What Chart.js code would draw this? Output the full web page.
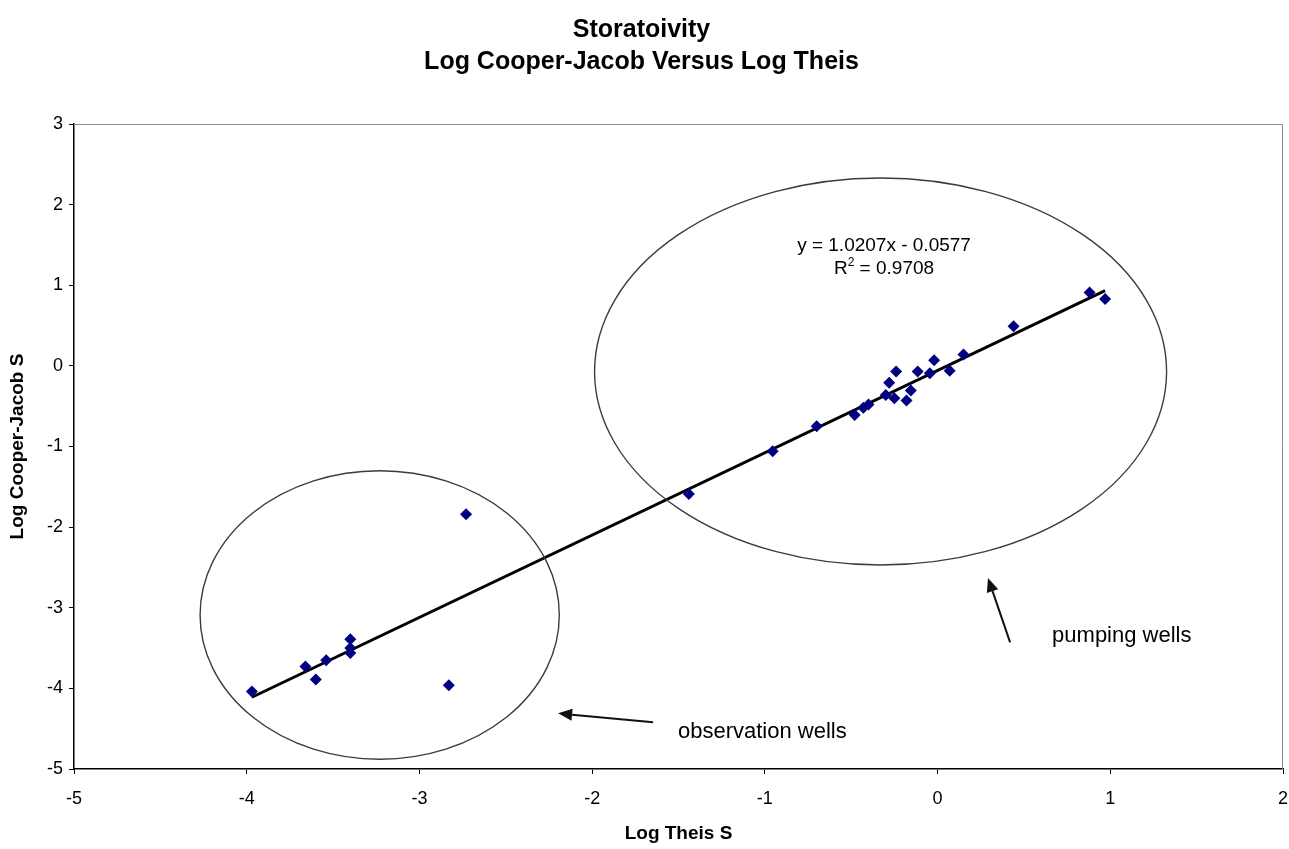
<!DOCTYPE html>
<html>
<head>
<meta charset="utf-8">
<title>Storatoivity</title>
<script src="https://cdn.jsdelivr.net/npm/chart.js@4.4.1/dist/chart.umd.min.js"></script>
<style>
    html, body { margin: 0; padding: 0; background: #fff; }
    #wrap { width: 1289px; height: 849px; }
</style>
</head>
<body>
<div id="wrap"><canvas id="storChart" width="1289" height="849"></canvas></div>
<script>
// Log Theis S (x) and Log Cooper-Jacob S (y) for each well
const logTheis = [
    -3.97, -3.66, -3.60, -3.54, -3.40, -3.40, -3.40, -2.83, -2.73,
    -1.44, -0.955, -0.70, -0.48, -0.43, -0.40, -0.28, -0.30, -0.24, -0.25,
    -0.155, -0.18, -0.115, -0.045, -0.02, 0.07, 0.15, 0.44, 0.88, 0.97
];
const logCooperJacob = [
    -4.04, -3.73, -3.89, -3.65, -3.39, -3.50, -3.56, -3.96, -1.84,
    -1.59, -1.06, -0.75, -0.61, -0.52, -0.48, -0.21, -0.36, -0.07, -0.40,
    -0.305, -0.43, -0.07, -0.09, 0.07, -0.06, 0.14, 0.49, 0.91, 0.83
];

// linear trendline as reported on the chart
const trendSlope = 1.0207;
const trendIntercept = -0.0577;
const trendR2 = 0.9708;

const xTicks = [-5, -4, -3, -2, -1, 0, 1, 2];
const yTicks = [-5, -4, -3, -2, -1, 0, 1, 2, 3];

const titleLines = ['Storatoivity', 'Log Cooper-Jacob Versus Log Theis'];

const points = logTheis.map((x, i) => ({ x: x, y: logCooperJacob[i] }));
const xMin = Math.min(...logTheis);
const xMax = Math.max(...logTheis);
const trendPoints = [xMin, xMax].map(x => ({ x: x, y: trendSlope * x + trendIntercept }));

const FONT = '"Liberation Sans", Arial, sans-serif';

// circled groups, arrows and notes, all in data units
const groups = [
    { cx: -3.23, cy: -3.09, rx: 1.04, ry: 1.79 },
    { cx: -0.33, cy: -0.07, rx: 1.656, ry: 2.40 }
];
const arrows = [
    { from: [-1.647, -4.42], to: [-2.197, -4.31] },
    { from: [0.420, -3.43], to: [0.292, -2.63] }
];
const notes = [
    { text: 'observation wells', x: -1.503, y: -4.54 },
    { text: 'pumping wells', x: 0.663, y: -3.35 }
];

const overlay = {
    id: 'overlay',
    beforeDatasetsDraw(chart) {
        // light frame on top and right of the plot
        const a = chart.chartArea;
        const ctx = chart.ctx;
        ctx.save();
        ctx.strokeStyle = '#8a8a8a';
        ctx.lineWidth = 1;
        ctx.beginPath();
        ctx.moveTo(a.left, a.top + 0.5);
        ctx.lineTo(a.right - 0.5, a.top + 0.5);
        ctx.lineTo(a.right - 0.5, a.bottom);
        ctx.stroke();
        ctx.restore();
    },
    afterDatasetsDraw(chart) {
        const ctx = chart.ctx;
        const xs = chart.scales.x;
        const ys = chart.scales.y;
        const px = v => xs.getPixelForValue(v);
        const py = v => ys.getPixelForValue(v);
        const unitX = px(1) - px(0);
        const unitY = py(0) - py(1);

        ctx.save();
        ctx.strokeStyle = '#3c3c3c';
        ctx.lineWidth = 1.4;
        groups.forEach(g => {
            ctx.beginPath();
            ctx.ellipse(px(g.cx), py(g.cy), g.rx * unitX, g.ry * unitY, 0, 0, Math.PI * 2);
            ctx.stroke();
        });

        ctx.strokeStyle = '#111';
        ctx.fillStyle = '#111';
        ctx.lineWidth = 2;
        arrows.forEach(ar => {
            const x0 = px(ar.from[0]), y0 = py(ar.from[1]);
            const x1 = px(ar.to[0]), y1 = py(ar.to[1]);
            const ang = Math.atan2(y1 - y0, x1 - x0);
            const head = 14;
            const bx = x1 - head * Math.cos(ang), by = y1 - head * Math.sin(ang);
            ctx.beginPath();
            ctx.moveTo(x0, y0);
            ctx.lineTo(bx, by);
            ctx.stroke();
            ctx.beginPath();
            ctx.moveTo(x1, y1);
            ctx.lineTo(bx + 6 * Math.sin(ang), by - 6 * Math.cos(ang));
            ctx.lineTo(bx - 6 * Math.sin(ang), by + 6 * Math.cos(ang));
            ctx.closePath();
            ctx.fill();
        });

        ctx.fillStyle = '#000';
        ctx.font = '22px ' + FONT;
        ctx.textBaseline = 'middle';
        ctx.textAlign = 'left';
        notes.forEach(n => ctx.fillText(n.text, px(n.x), py(n.y)));

        // trendline equation and R squared
        const eqX = px(-0.31);
        const big = '19px ' + FONT;
        const small = '12px ' + FONT;
        ctx.textAlign = 'center';
        ctx.font = big;
        const sign = trendIntercept < 0 ? ' - ' : ' + ';
        ctx.fillText('y = ' + trendSlope.toFixed(4) + 'x' + sign + Math.abs(trendIntercept).toFixed(4), eqX, py(1.49));

        const rest = ' = ' + trendR2.toFixed(4);
        const wR = ctx.measureText('R').width;
        const wRest = ctx.measureText(rest).width;
        ctx.font = small;
        const w2 = ctx.measureText('2').width;
        const start = eqX - (wR + w2 + wRest) / 2;
        const ry = py(1.20);
        ctx.textAlign = 'left';
        ctx.font = big;
        ctx.fillText('R', start, ry);
        ctx.font = small;
        ctx.fillText('2', start + wR, ry - 6);
        ctx.font = big;
        ctx.fillText(rest, start + wR + w2, ry);
        ctx.restore();
    }
};

const ctx = document.getElementById('storChart').getContext('2d');
const chart = new Chart(ctx, {
    type: 'scatter',
    data: {
        datasets: [
            {
                label: 'Log Cooper-Jacob S',
                data: points,
                pointStyle: 'rectRot',
                pointRadius: 6,
                backgroundColor: '#000080',
                borderColor: '#000080',
                borderWidth: 0,
                order: 1
            },
            {
                type: 'line',
                label: 'Linear trend',
                data: trendPoints,
                borderColor: '#000',
                borderWidth: 3,
                pointRadius: 0,
                fill: false,
                order: 2
            }
        ]
    },
    options: {
        responsive: false,
        animation: false,
        layout: { padding: { left: 0, right: 6, top: 0, bottom: 0 } },
        plugins: {
            legend: { display: false },
            tooltip: { enabled: false },
            title: {
                display: true,
                text: titleLines,
                color: '#000',
                font: { family: FONT, size: 25, weight: 'bold', lineHeight: 1.28 },
                padding: { top: 14, bottom: 46 }
            }
        },
        scales: {
            x: {
                type: 'linear',
                min: -5,
                max: 2,
                afterBuildTicks: s => { s.ticks = xTicks.map(v => ({ value: v })); },
                afterFit: s => { s.height = 80; s.paddingLeft = 0; s.paddingRight = 0; },
                ticks: { color: '#000', font: { family: FONT, size: 18 }, padding: 14 },
                grid: { drawOnChartArea: false, drawTicks: true, tickLength: 5, color: '#000' },
                border: { color: '#000', width: 1.5 },
                title: {
                    display: true,
                    text: 'Log Theis S',
                    color: '#000',
                    font: { family: FONT, size: 19, weight: 'bold' },
                    padding: { top: 0, bottom: 4 }
                }
            },
            y: {
                type: 'linear',
                min: -5,
                max: 3,
                afterBuildTicks: s => { s.ticks = yTicks.map(v => ({ value: v })); },
                afterFit: s => { s.width = 74; s.paddingTop = 0; s.paddingBottom = 0; },
                ticks: { color: '#000', font: { family: FONT, size: 18 }, padding: 6 },
                grid: { drawOnChartArea: false, drawTicks: true, tickLength: 5, color: '#000' },
                border: { color: '#000', width: 1.5 },
                title: {
                    display: true,
                    text: 'Log Cooper-Jacob S',
                    color: '#000',
                    font: { family: FONT, size: 19, weight: 'bold' },
                    padding: { top: 6, bottom: 0 }
                }
            }
        }
    },
    plugins: [overlay]
});
</script>
</body>
</html>
